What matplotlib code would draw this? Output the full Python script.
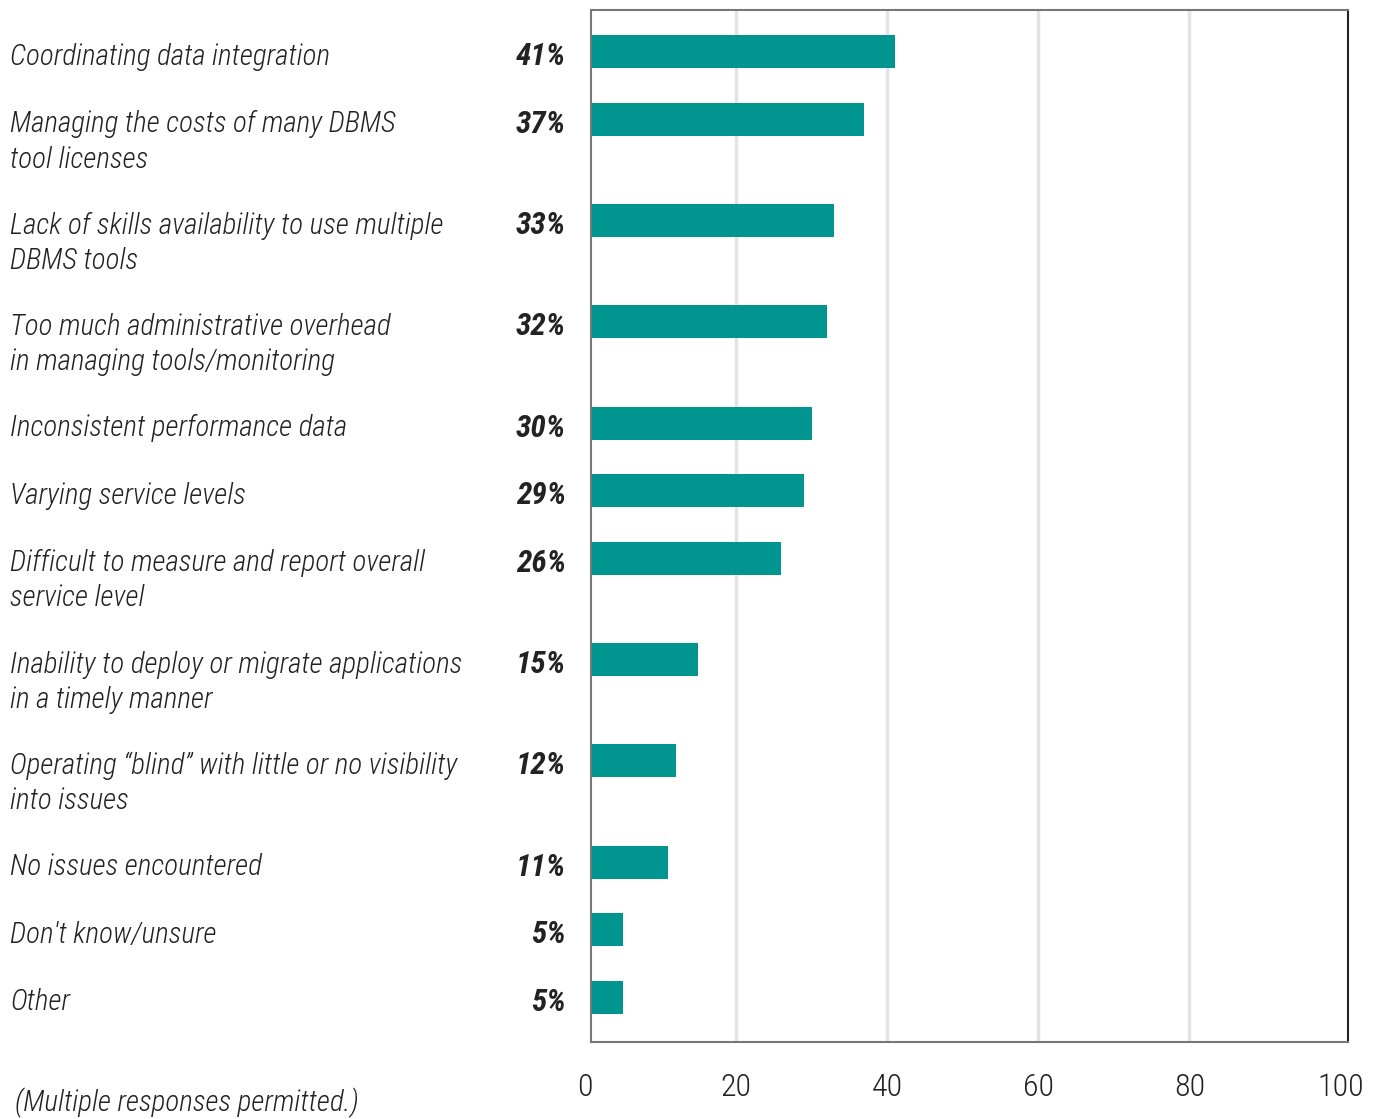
import numpy as np
import matplotlib
matplotlib.use("Agg")
import matplotlib.pyplot as plt
import matplotlib.transforms as mtransforms
from matplotlib import font_manager as fm

# Survey responses, top to bottom
labels = [
    "Coordinating data integration",
    "Managing the costs of many DBMS\ntool licenses",
    "Lack of skills availability to use multiple\nDBMS tools",
    "Too much administrative overhead\nin managing tools/monitoring",
    "Inconsistent performance data",
    "Varying service levels",
    "Difficult to measure and report overall\nservice level",
    "Inability to deploy or migrate applications\nin a timely manner",
    "Operating \u201cblind\u201d with little or no visibility\ninto issues",
    "No issues encountered",
    "Don't know/unsure",
    "Other",
]
values = [41, 37, 33, 32, 30, 29, 26, 15, 12, 11, 5, 5]
xticks = [0, 20, 40, 60, 80, 100]
note = "(Multiple responses permitted.)"

TEAL = "#00968f"
TEXT = "#222222"


def narrow_font():
    """Find a condensed face if one is installed, else a plain one."""
    fonts = fm.fontManager.ttflist
    prefer = ["Roboto Condensed", "Liberation Sans Narrow", "Noto Sans",
              "Open Sans", "Roboto", "Inter", "Lato"]
    for name in prefer:
        for f in fonts:
            if f.name != name:
                continue
            st = str(f.stretch).lower()
            if "condensed" in st or "narrow" in f.name.lower() \
                    or "condensed" in f.name.lower():
                return name, f.stretch, True
    return "Liberation Sans", "normal", False


FONT, STRETCH, CONDENSED = narrow_font()
FAMILY = [FONT, "DejaVu Sans"]
scale = 1.0 if CONDENSED else 0.78
SIZE = 21 * scale
VSIZE = 22.5 * scale
TSIZE = 23 * scale
kw = dict(family=FAMILY, stretch=STRETCH, color=TEXT)

# rows get extra room when the label wraps onto a second line
nlines = [lab.count("\n") + 1 for lab in labels]
ypos = [0.0]
for n in nlines[:-1]:
    ypos.append(ypos[-1] + 2 + (n - 1))
ypos = np.array(ypos)

fig = plt.figure(figsize=(13.82, 11.19), dpi=100)
ax = fig.add_axes([0.4276, 0.0688, 0.5478, 0.9223])

ax.barh(ypos, values, height=0.98, color=TEAL, zorder=2)

ax.set_xlim(0.8, 101)
ax.set_ylim(ypos[-1] + 1.33, -1.24)

for g in xticks[1:-1]:
    ax.axvline(g, color="#e3e3e3", lw=2.5, zorder=1)

ax.set_xticks([])
ax.set_yticks([])
for side in ("top", "left", "bottom"):
    ax.spines[side].set_color("#777777")
    ax.spines[side].set_linewidth(1.5)
ax.spines["right"].set_color("#222222")
ax.spines["right"].set_linewidth(1.5)

# labels and values sit left of the axes, in figure pixels on x
to_fig = fig.transFigure
tr_lab = mtransforms.blended_transform_factory(to_fig, ax.transData)
dy = 0.15  # text sits a touch below the bar centre
for y, lab, v in zip(ypos, labels, values):
    for k, line in enumerate(lab.split("\n")):
        ax.text(10 / 1382, y + dy + k * 1.04, line, transform=tr_lab,
                ha="left", va="center", fontsize=SIZE, style="italic",
                weight="light", **kw)
    ax.text(566 / 1382, y + dy, f"{v}%", transform=tr_lab, ha="right",
            va="center", fontsize=VSIZE, style="italic", weight="bold", **kw)

# x tick labels drawn by hand so the 0 shows left of the clipped start
tr_tick = mtransforms.blended_transform_factory(ax.transData, to_fig)
for t in xticks:
    ax.text(t, 1 - 1088 / 1119, str(t), transform=tr_tick, ha="center",
            va="center", fontsize=TSIZE, weight="light", clip_on=False, **kw)

fig.text(15 / 1382, 1 - 1103 / 1119, note, ha="left", va="center",
         fontsize=SIZE, style="italic", weight="light", **kw)

fig.savefig("out.png", dpi=100)
